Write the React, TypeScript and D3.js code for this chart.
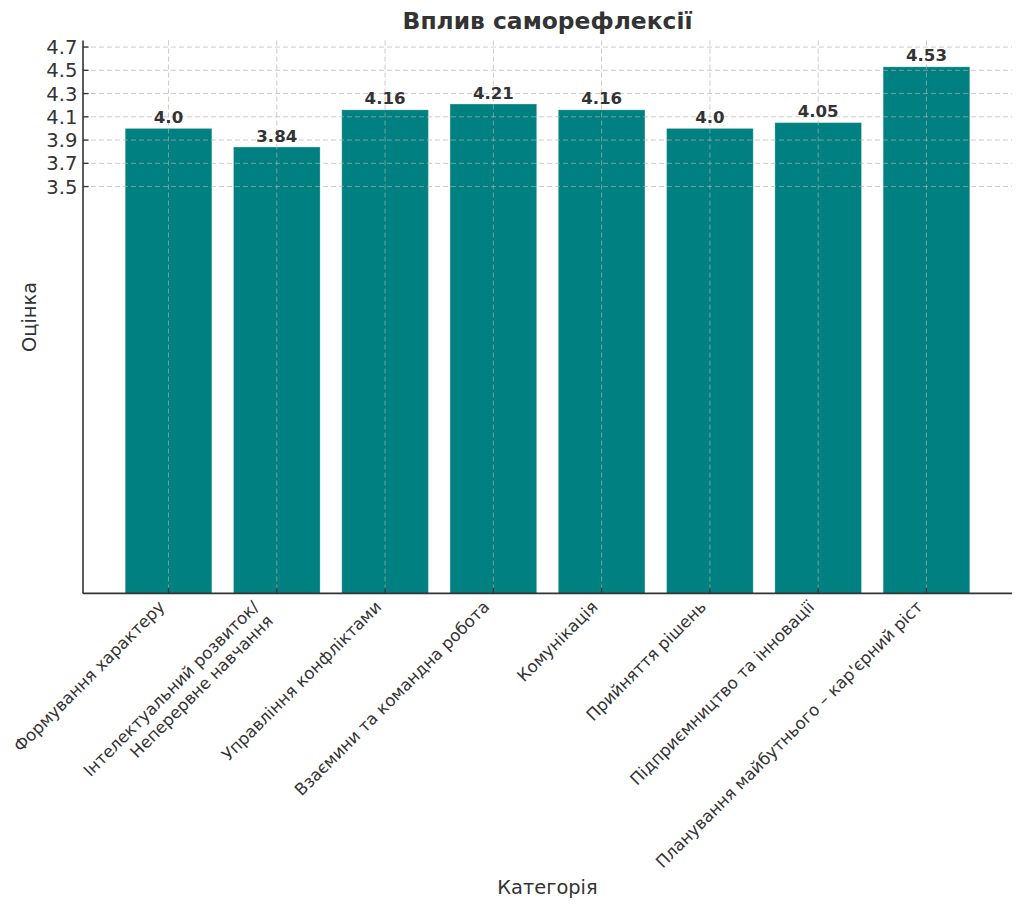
import React from "react";
import * as d3 from "d3";

const categories: string[][] = [
  ["Формування характеру"],
  ["Інтелектуальний розвиток/", "Неперервне навчання"],
  ["Управління конфліктами"],
  ["Взаємини та командна робота"],
  ["Комунікація"],
  ["Прийняття рішень"],
  ["Підприємництво та інновації"],
  ["Планування майбутнього – кар'єрний ріст"],
];
const values: number[] = [4.0, 3.84, 4.16, 4.21, 4.16, 4.0, 4.05, 4.53];
const valueLabels: string[] = ["4.0", "3.84", "4.16", "4.21", "4.16", "4.0", "4.05", "4.53"];
const yTicks: number[] = [3.5, 3.7, 3.9, 4.1, 4.3, 4.5, 4.7];

const W = 1024;
const H = 911;
const left = 83;
const right = 1012;
const top = 40.5;
const bottom = 593.4;
const FONT = "'DejaVu Sans', sans-serif";
const TXT = "#333";

export default function App() {
  const n = values.length;
  const x = d3.scaleLinear().domain([-0.79, n - 1 + 0.79]).range([left, right]);
  const yMax = d3.max(values)! * 1.05;
  const y = d3.scaleLinear().domain([0, yMax]).range([bottom, top]);
  const bw = x(0.8) - x(0);

  const xFs = 16.6;
  const asc = xFs * 0.76;
  const desc = xFs * 0.24;
  const lh = xFs * 1.2;
  const pad = 5.6;
  const s = Math.SQRT1_2;

  return (
    <svg width={W} height={H} style={{ position: "absolute", left: 0, top: 0 }} fontFamily={FONT}>
      <rect width={W} height={H} fill="#fff" />
      {/* bars */}
      {values.map((v, i) => (
        <rect
          key={"b" + i}
          x={x(i) - bw / 2}
          y={y(v)}
          width={bw}
          height={y(0) - y(v)}
          fill="#008080"
          stroke="rgba(255,255,255,0.25)"
          strokeWidth={1}
        />
      ))}
      {/* grid */}
      {yTicks.map((t) => (
        <line key={"gy" + t} x1={left} x2={right} y1={y(t)} y2={y(t)} stroke="#b0b0b0" strokeOpacity={0.65} strokeWidth={1} strokeDasharray="5,3" />
      ))}
      {values.map((_, i) => (
        <line key={"gx" + i} x1={x(i)} x2={x(i)} y1={top} y2={bottom} stroke="#b0b0b0" strokeOpacity={0.65} strokeWidth={1} strokeDasharray="5,3" />
      ))}
      {/* value labels */}
      {values.map((v, i) => (
        <text key={"v" + i} x={x(i)} y={y(v) - 5.5} textAnchor="middle" fontSize={16.6} fontWeight="bold" fill={TXT}>
          {valueLabels[i]}
        </text>
      ))}
      {/* spines */}
      <line x1={left} x2={left} y1={top} y2={bottom} stroke={TXT} strokeWidth={1.6} />
      <line x1={left} x2={right} y1={bottom} y2={bottom} stroke={TXT} strokeWidth={1.6} />
      {/* y ticks */}
      {yTicks.map((t) => (
        <g key={"yt" + t}>
          <line x1={left} x2={left + 5.6} y1={y(t)} y2={y(t)} stroke={TXT} strokeWidth={1.3} />
          <text x={left - 5.6} y={y(t)} dy="0.36em" textAnchor="end" fontSize={19.6} fill={TXT}>
            {t.toFixed(1)}
          </text>
        </g>
      ))}
      {/* x ticks */}
      {categories.map((lines, i) => {
        const nl = lines.length;
        const px = x(i) - ((nl - 1) * lh + desc) * s;
        const py = bottom + pad + asc * s;
        return (
          <g key={"xt" + i}>
            <line x1={x(i)} x2={x(i)} y1={bottom} y2={bottom - 5.6} stroke={TXT} strokeWidth={1.3} />
            <g transform={`translate(${px},${py}) rotate(-45)`}>
              {lines.map((ln, j) => (
                <text key={j} x={0} y={j * lh} textAnchor="end" fontSize={xFs} fill={TXT}>
                  {ln}
                </text>
              ))}
            </g>
          </g>
        );
      })}
      {/* labels */}
      <text x={(left + right) / 2} y={29} textAnchor="middle" fontSize={23.4} fontWeight="bold" fill={TXT}>
        Вплив саморефлексії
      </text>
      <text x={(left + right) / 2} y={894} textAnchor="middle" fontSize={19.4} fill={TXT}>
        Категорія
      </text>
      <text transform={`translate(36,${(top + bottom) / 2}) rotate(-90)`} textAnchor="middle" fontSize={19.4} fill={TXT}>
        Оцінка
      </text>
    </svg>
  );
}
